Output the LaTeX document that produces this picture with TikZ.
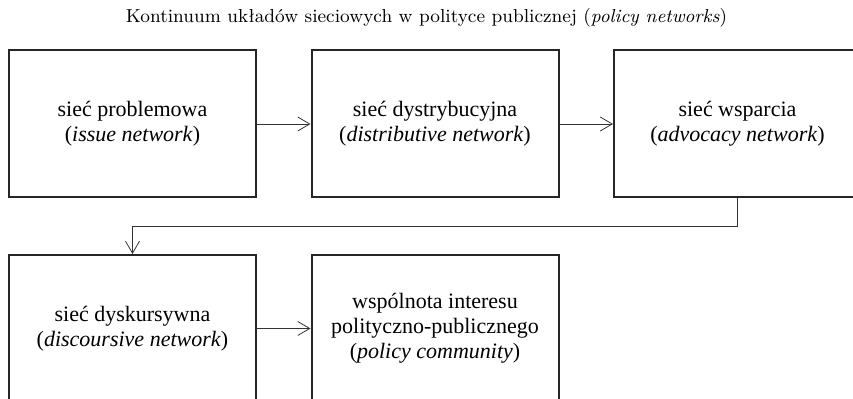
\documentclass[tikz,border=0pt]{standalone}
\usepackage{fontspec}
\setmainfont{Liberation Serif}
\newfontfamily\titlefont{Latin Modern Roman}
\usetikzlibrary{arrows.meta}
\tikzset{
  >={Straight Barb[length=6pt,width=7pt]},
}
\tikzstyle{box}=[draw=black!85,line width=1pt,minimum width=123.5pt,minimum height=73.5pt,align=center,font=\fontsize{11}{12.5}\selectfont]
\tikzstyle{link}=[->,line width=0.4pt,black!80]
\tikzstyle{heading}=[font=\titlefont\fontsize{9.4}{11}\selectfont]

\begin{document}
\begin{tikzpicture}[x=0.5pt,y=-0.5pt]
    \useasboundingbox (0,0) rectangle (853,399);
    \node[heading] (title) at (426.5,18) {Kontinuum układów sieciowych w polityce publicznej (\textit{policy networks})};
    % top row
    \node[box] (issue) at (132.5,124) {sieć problemowa\\(\textit{issue network})};
    \node[box] (distr) at (435,124) {sieć dystrybucyjna\\(\textit{distributive network})};
    \node[box] (advoc) at (737.5,124) {sieć wsparcia\\(\textit{advocacy network})};
    % bottom row
    \node[box] (disc) at (132.5,328.5) {sieć dyskursywna\\(\textit{discoursive network})};
    \node[box] (comm) at (435,328.5) {wspólnota interesu\\polityczno-publicznego\\(\textit{policy community})};
    \coordinate (bend) at (737.5,226);
    \draw[link] (issue) -- (distr);
    \draw[link] (distr) -- (advoc);
    \draw[link] (advoc.south) -- (bend) -| (disc.north);
    \draw[link] (disc) -- (comm);
  \end{tikzpicture}
\end{document}
